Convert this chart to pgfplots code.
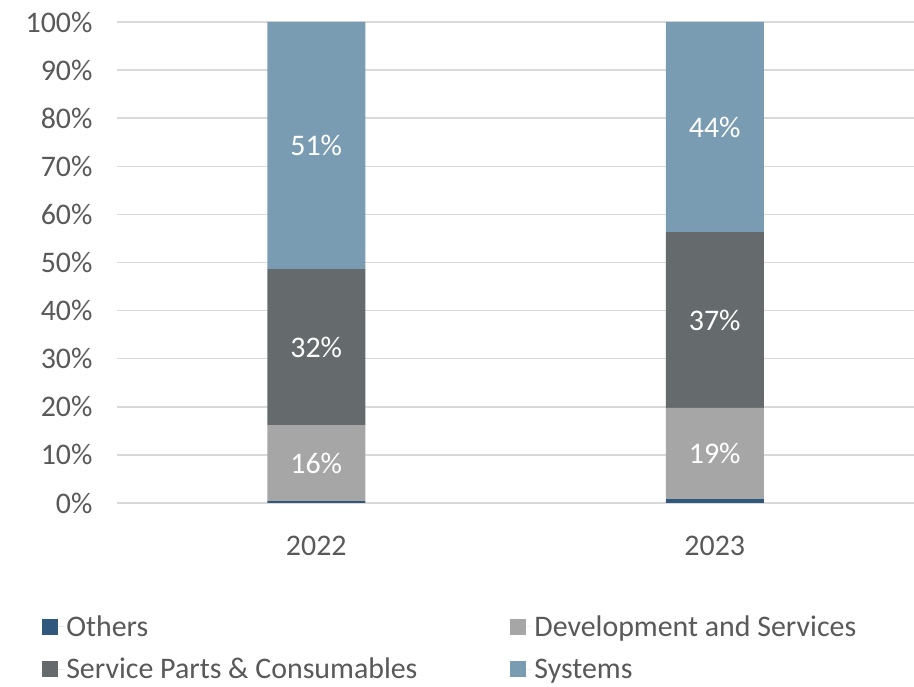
\documentclass[border=0pt]{standalone}
\usepackage{pgfplots}
\pgfplotsset{compat=1.18}
\usepackage{fontspec}
\setmainfont{Carlito}
\definecolor{cOthers}{RGB}{47,88,124}
\definecolor{cDev}{RGB}{166,166,166}
\definecolor{cServ}{RGB}{101,107,109}
\definecolor{cSys}{RGB}{122,156,178}
\definecolor{txt}{RGB}{89,89,89}
\definecolor{gridc}{RGB}{217,217,217}
\newcommand{\bigfont}{\fontsize{30}{34}\selectfont}
\begin{document}
\begin{tikzpicture}[x=1bp,y=1bp]
\path[use as bounding box] (0,0) rectangle (914,687);
\begin{axis}[
  at={(117bp,184bp)}, anchor=south west,
  scale only axis, width=797bp, height=481bp,
  ybar stacked, bar width=98bp,
  xmin=-0.5, xmax=1.5, ymin=0, ymax=100,
  xtick={0,1}, xticklabels={2022,2023},
  ytick={0,10,...,100},
  yticklabel={\pgfmathprintnumber{\tick}\%},
  /pgf/number format/assume math mode=true,
  axis line style={draw=none}, major tick length=0pt,
  ymajorgrids, grid style={gridc, line width=1.5bp},
  tick label style={font=\bigfont, text=txt},
  yticklabel style={xshift=-21bp},
  xticklabel style={yshift=-30bp},
  legend columns=2,
  legend cell align=left,
  legend style={at={(-0.094,-0.23)}, anchor=north west, draw=none,
    font=\bigfont, text=txt, inner sep=0pt,
    /tikz/every even column/.append style={column sep=91bp},
    row sep=16bp},
  legend image code/.code={\fill[#1] (0bp,-8bp) rectangle (16bp,8bp);
    \path (0bp,0bp) -- (22bp,0bp);},
  every node near coord/.append style={text=white, font=\bigfont, anchor=center},
]
\addplot[fill=cOthers, draw=none] coordinates {(0,0.4) (1,0.8)};
\addlegendentry{Others}
\addplot[fill=cDev, draw=none, nodes near coords, point meta=explicit symbolic]
  coordinates {(0,15.8)[16\%] (1,19.0)[19\%]};
\addlegendentry{Development and Services}
\addplot[fill=cServ, draw=none, nodes near coords, point meta=explicit symbolic]
  coordinates {(0,32.4)[32\%] (1,36.5)[37\%]};
\addlegendentry{Service Parts \& Consumables}
\addplot[fill=cSys, draw=none, nodes near coords, point meta=explicit symbolic]
  coordinates {(0,51.4)[51\%] (1,43.7)[44\%]};
\addlegendentry{Systems}
\end{axis}
\end{tikzpicture}
\end{document}
